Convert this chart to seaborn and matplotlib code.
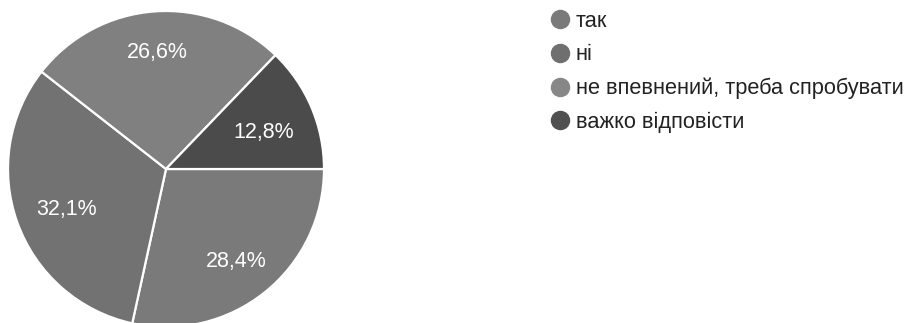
import matplotlib
matplotlib.use("Agg")
import matplotlib.pyplot as plt
from matplotlib.lines import Line2D
import numpy as np
import seaborn as sns

categories = ["так", "ні", "не впевнений, треба спробувати", "важко відповісти"]
values = [28.4, 32.1, 26.6, 12.8]
labels = ["28,4%", "32,1%", "26,6%", "12,8%"]
slice_colors = ["#7a7a7a", "#727272", "#808080", "#4b4b4b"]
legend_colors = ["#7a7a7a", "#6f6f6f", "#878787", "#505050"]
label_dist = [0.71, 0.67, 0.77, 0.67]

sns.set_theme(style="white")
plt.rcParams["font.family"] = ["Liberation Sans", "DejaVu Sans"]

fig = plt.figure(figsize=(9.09, 3.23), dpi=100)
fig.patch.set_facecolor("white")
r_px = 158
cx, cy = 166, 323 - 169
ax = fig.add_axes([(cx - r_px) / 909, (cy - r_px) / 323, 2 * r_px / 909, 2 * r_px / 323])
wedges, texts = ax.pie(values, colors=slice_colors, startangle=0, counterclock=False,
                       wedgeprops=dict(edgecolor="white", linewidth=1.6))
for w, lab, d in zip(wedges, labels, label_dist):
    ang = np.deg2rad((w.theta1 + w.theta2) / 2)
    ax.text(d * np.cos(ang), d * np.sin(ang) - 0.015, lab, ha="center", va="center_baseline",
            color="white", fontsize=15.5)
ax.set_xlim(-1, 1)
ax.set_ylim(-1, 1)
ax.set_aspect("equal")
ax.axis("off")

handles = [Line2D([0], [0], marker="o", linestyle="none", markersize=13,
                  markerfacecolor=c, markeredgecolor=c) for c in legend_colors]
leg = fig.legend(handles, categories, loc="upper left", bbox_to_anchor=(543 / 909, 1 - 4 / 323),
                 frameon=False, fontsize=15.7, labelspacing=0.58, handletextpad=0.2,
                 handlelength=1.0, borderpad=0.3, borderaxespad=0)
for t in leg.get_texts():
    t.set_color("#222222")

fig.savefig("out.png", dpi=100, facecolor="white")
